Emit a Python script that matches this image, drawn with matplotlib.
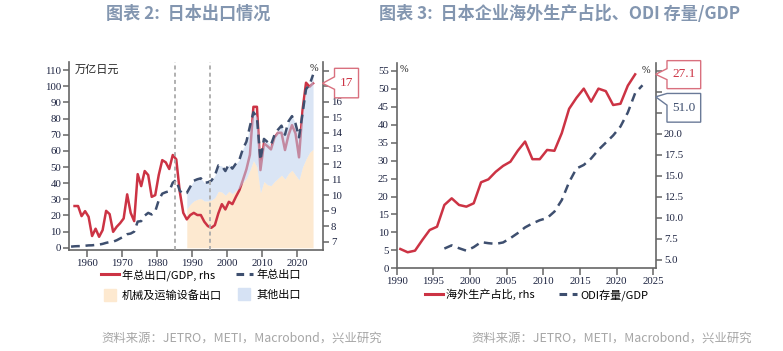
import numpy as np
import matplotlib
matplotlib.use('Agg')
import matplotlib.pyplot as plt
from matplotlib.lines import Line2D
from matplotlib.patches import Polygon
from matplotlib.transforms import Affine2D, ScaledTranslation

CJK = ['Noto Sans CJK SC', 'DejaVu Sans']
plt.rcParams['font.family'] = ['Liberation Serif', 'DejaVu Serif']

# ---------------- Chart 2 data ----------------
export_years = list(range(1955, 2025))
total_exports = [0.7, 0.9, 1.0, 1.0, 1.25, 1.46, 1.52, 1.77, 1.96, 2.4,
                 3.04, 3.52, 3.76, 4.62, 5.76, 6.95, 8.39, 8.8, 10.0, 16.2,
                 16.5, 19.9, 21.6, 20.6, 22.5, 29.4, 33.5, 34.4, 35.0, 40.3,
                 42.0, 35.3, 33.3, 33.9, 37.8, 41.5, 42.4, 43.0, 40.2, 40.5,
                 41.5, 44.7, 51.0, 50.6, 47.5, 51.7, 49.0, 52.1, 54.5, 61.2,
                 65.7, 75.2, 83.9, 81.0, 54.2, 67.4, 65.5, 63.7, 69.8, 73.1,
                 75.6, 70.0, 78.3, 81.5, 76.9, 68.4, 83.1, 98.2, 100.9, 107.1]
ratio_years = list(range(1956, 2025))
export_gdp = [9.3, 9.3, 8.65, 8.97, 8.61, 7.37, 7.84, 7.32, 7.75, 8.99,
              8.78, 7.64, 7.96, 8.2, 8.5, 10.05, 8.86, 8.33, 11.35, 10.58,
              11.55, 11.29, 9.89, 10.0, 11.29, 12.25, 12.11, 11.68, 12.58, 12.30,
              10.22, 8.86, 8.44, 8.72, 8.86, 8.72, 8.72, 8.29, 8.01, 7.90,
              8.07, 8.83, 9.42, 9.08, 9.57, 9.42, 9.89, 10.32, 10.97, 11.66,
              12.6, 15.68, 15.68, 11.61, 13.33, 13.15, 12.94, 13.71, 14.01, 14.01,
              12.90, 13.86, 14.50, 13.97, 12.43, 15.47, 17.23, 16.97, 17.19]
area_years = list(range(1988, 2025))
machinery = [24.0, 27.0, 29.0, 30.0, 30.5, 29.0, 29.0, 29.5, 31.0, 35.0,
             34.5, 32.5, 35.0, 33.5, 35.5, 37.0, 40.5, 43.0, 48.0, 54.0,
             50.0, 34.0, 41.0, 39.0, 38.5, 41.0, 43.0, 45.0, 42.5, 46.0,
             48.0, 45.0, 42.0, 50.0, 55.0, 59.0, 61.0]
other = [9.9, 10.8, 12.5, 12.4, 12.5, 11.2, 11.5, 12.0, 13.7, 16.0,
         16.1, 15.0, 16.7, 15.5, 16.6, 17.5, 20.7, 22.7, 27.2, 29.9,
         31.0, 20.2, 26.4, 26.5, 25.2, 28.8, 30.1, 30.6, 27.5, 32.3,
         33.5, 31.9, 26.4, 33.1, 43.2, 41.9, 46.1]
event_years = [1985, 1995]
left2_ticks = list(range(0, 111, 10))
right2_ticks = list(range(7, 19))
right2_labels = ['7', '8', '9', '10', '11', '12', '13', '14', '15', '16', '', '']
x2_ticks = list(range(1960, 2021, 10))

# ---------------- Chart 3 data ----------------
prod_years = list(range(1990, 2023))
overseas_prod = [6.31, 5.92, 6.11, 7.38, 8.57, 8.96, 11.55, 12.34, 11.55, 11.35,
                 11.75, 14.25, 14.6, 15.5, 16.2, 16.7, 18.0, 19.1, 17.0, 17.0,
                 18.1, 18.0, 20.1, 23.0, 24.3, 25.4, 23.85, 25.4, 25.1, 23.45,
                 23.6, 25.75, 27.1]
odi_years = list(range(1996, 2024))
odi_gdp = [5.5, 6.4, 5.6, 4.9, 5.9, 7.3, 7.0, 6.8, 7.2, 8.4,
           9.8, 11.4, 12.5, 13.4, 14.0, 15.8, 19.0, 24.0, 27.8, 28.8,
           30.6, 33.0, 35.0, 37.0, 39.5, 43.4, 48.8, 51.0]
left3_ticks = list(range(0, 56, 5))
right3_ticks = [5.0, 7.5, 10.0, 12.5, 15.0, 17.5, 20.0, 22.5, 25.0, 27.5]
right3_labels = ['5.0', '7.5', '10.0', '12.5', '15.0', '17.5', '20.0', '', '', '']
x3_ticks = list(range(1990, 2026, 5))

RED = '#cc3344'
NAVY = '#3e4f6f'
BEIGE = '#fde9d0'
BLUE = '#bcd0ed'
GRAY = '#666666'
TICKC = '#1c2340'

fig = plt.figure(figsize=(7.83, 3.51), dpi=100)


def style_axes(a, ar):
    for s in ['top', 'right']:
        a.spines[s].set_visible(False)
    for s in ['top', 'left', 'bottom']:
        ar.spines[s].set_visible(False)
    for sp in [a.spines['left'], a.spines['bottom'], ar.spines['right']]:
        sp.set_color(GRAY)
        sp.set_linewidth(1.2)
    a.tick_params(axis='y', direction='out', length=4.5, width=1.1, color=GRAY,
                  labelsize=7.8, pad=1.2, labelcolor=TICKC)
    a.tick_params(axis='x', direction='out', length=5, width=1.1, color=GRAY,
                  labelsize=7.8, pad=1.5, labelcolor=TICKC)
    ar.tick_params(axis='y', direction='out', length=4.5, width=1.1, color=GRAY,
                   labelsize=7.8, pad=1.5, labelcolor=TICKC)


def callout(host, ref_ax, yval, verts, text, txy, ec, tc):
    tr = Affine2D() + ScaledTranslation(1.0, yval, ref_ax.get_yaxis_transform())
    p = Polygon(verts, closed=True, transform=tr, facecolor='white',
                edgecolor=ec, lw=1.0, clip_on=False, zorder=10)
    host.add_artist(p)
    host.text(txy[0], txy[1], text, transform=tr, ha='center', va='center',
              color=tc, fontsize=9.5, zorder=11, clip_on=False)


# ---------------- Chart 2 ----------------
ax = fig.add_axes([0.0885, 0.2877, 0.3234, 0.5356])
axr = ax.twinx()
ax.set_xlim(1955, 2027.2)
ax.set_ylim(-1.4, 115)
axr.set_ylim(6.47, 18.56)

ex_x = np.array(export_years) + 0.5
ra_x = np.array(ratio_years) + 0.5
ar_x = np.array(area_years) + 0.5
mach = np.array(machinery)
oth = np.array(other)

ax.fill_between(ar_x, 0, mach, color=BEIGE, lw=0, zorder=1)
ax.plot(ra_x, export_gdp, color=RED, lw=1.8, zorder=2, transform=axr.transData,
        solid_joinstyle='round')
ax.fill_between(ar_x, mach, mach + oth, color=BLUE, alpha=0.55, lw=0, zorder=3)
ax.plot(ex_x, total_exports, color=NAVY, lw=1.8, ls=(0, (3.5, 2.3)), zorder=4)
for yv in event_years:
    ax.axvline(yv, color='#aaaaaa', lw=1.3, ls=(0, (2.2, 1.8)), zorder=5)

ax.set_yticks(left2_ticks)
axr.set_yticks(right2_ticks)
axr.set_yticklabels(right2_labels)
ax.set_xticks(x2_ticks)
style_axes(ax, axr)

ax.text(0.0225, 0.957, '万亿日元', transform=ax.transAxes, family=CJK,
        fontsize=8, va='center', ha='left', color='#222222')
ax.text(0.966, 0.963, '%', transform=ax.transAxes, fontsize=7.5,
        va='center', ha='center', color='#222222')

callout(axr, axr, export_gdp[-1],
        [(0, 0), (12, 6.5), (12, 15), (36, 15), (36, -14.5), (12, -14.5), (12, -6)],
        f'{export_gdp[-1]:.0f}', (24, 0), '#d9707e', RED)

h2 = [Line2D([], [], color=RED, lw=2.2),
      Line2D([], [], marker='s', ls='none', markersize=8, color=BEIGE),
      Line2D([], [], color=NAVY, lw=2.2, ls=(0, (2.5, 1.8))),
      Line2D([], [], marker='s', ls='none', markersize=8, color='#d6e2f4')]
l2 = ['年总出口/GDP, rhs', '机械及运输设备出口', '年总出口', '其他出口']
ax.legend(h2, l2, ncol=2, loc='upper left', bbox_to_anchor=(101 / 783, 1 - 269 / 351),
          bbox_transform=fig.transFigure, frameon=False,
          prop={'family': CJK, 'size': 8}, handlelength=1.6, handletextpad=0.3,
          columnspacing=1.2, labelspacing=0.85, borderpad=0, borderaxespad=0)

# ---------------- Chart 3 ----------------
bx = fig.add_axes([0.5066, 0.2356, 0.3308, 0.5849])
bxr = bx.twinx()
bx.set_xlim(1990, 2025.3)
bx.set_ylim(0, 57.2)
bxr.set_ylim(4.01, 28.45)

bxr.plot(np.array(prod_years) + 0.5, overseas_prod, color=RED, lw=1.8, zorder=3)
bx.plot(np.array(odi_years) + 0.5, odi_gdp, color=NAVY, lw=1.8,
        ls=(0, (3.5, 2.3)), zorder=3)

bx.set_yticks(left3_ticks)
bxr.set_yticks(right3_ticks)
bxr.set_yticklabels(right3_labels)
bx.set_xticks(x3_ticks)
style_axes(bx, bxr)

bx.text(0.028, 0.968, '%', transform=bx.transAxes, fontsize=7.5,
        va='center', ha='center', color='#222222')
bx.text(0.963, 0.965, '%', transform=bx.transAxes, fontsize=7.5,
        va='center', ha='center', color='#222222')

callout(bxr, bxr, overseas_prod[-1],
        [(0, 0), (11.3, 5.7), (11.3, 13.7), (45, 13.7), (45, -14.3), (11.3, -14.3), (11.3, -5.3)],
        f'{overseas_prod[-1]:.1f}', (28.5, 0), '#d9707e', RED)
callout(bxr, bx, odi_gdp[-1],
        [(0, -11.6), (11.3, -8.2), (45, -8.2), (45, -36.9), (11.3, -36.9), (11.3, -19.9)],
        f'{odi_gdp[-1]:.1f}', (28.5, -22.6), '#6a7a98', NAVY)

h3 = [Line2D([], [], color=RED, lw=2.2),
      Line2D([], [], color=NAVY, lw=2.2, ls=(0, (2.5, 1.8)))]
l3 = ['海外生产占比, rhs', 'ODI存量/GDP']
bx.legend(h3, l3, ncol=2, loc='upper left', bbox_to_anchor=(425 / 783, 1 - 289 / 351),
          bbox_transform=fig.transFigure, frameon=False,
          prop={'family': CJK, 'size': 8}, handlelength=1.6, handletextpad=0.3,
          columnspacing=2.2, borderpad=0, borderaxespad=0)

# ---------------- Titles & sources ----------------
TITLEC = '#8396b0'
fig.text(188 / 783, 1 - 14 / 351, '图表 2:  日本出口情况', family=CJK, fontsize=12.3,
         weight='bold', color=TITLEC, ha='center', va='center')
fig.text(560 / 783, 1 - 14 / 351, '图表 3:  日本企业海外生产占比、ODI 存量/GDP', family=CJK,
         fontsize=12.3, weight='bold', color=TITLEC, ha='center', va='center')
SRC = '资料来源：JETRO，METI，Macrobond，兴业研究'
fig.text(101 / 783, 1 - 338 / 351, SRC, family=CJK, fontsize=8.9, color='#a6a6a6',
         ha='left', va='center')
fig.text(471 / 783, 1 - 338 / 351, SRC, family=CJK, fontsize=8.9, color='#a6a6a6',
         ha='left', va='center')

fig.savefig('out.png', dpi=100)
